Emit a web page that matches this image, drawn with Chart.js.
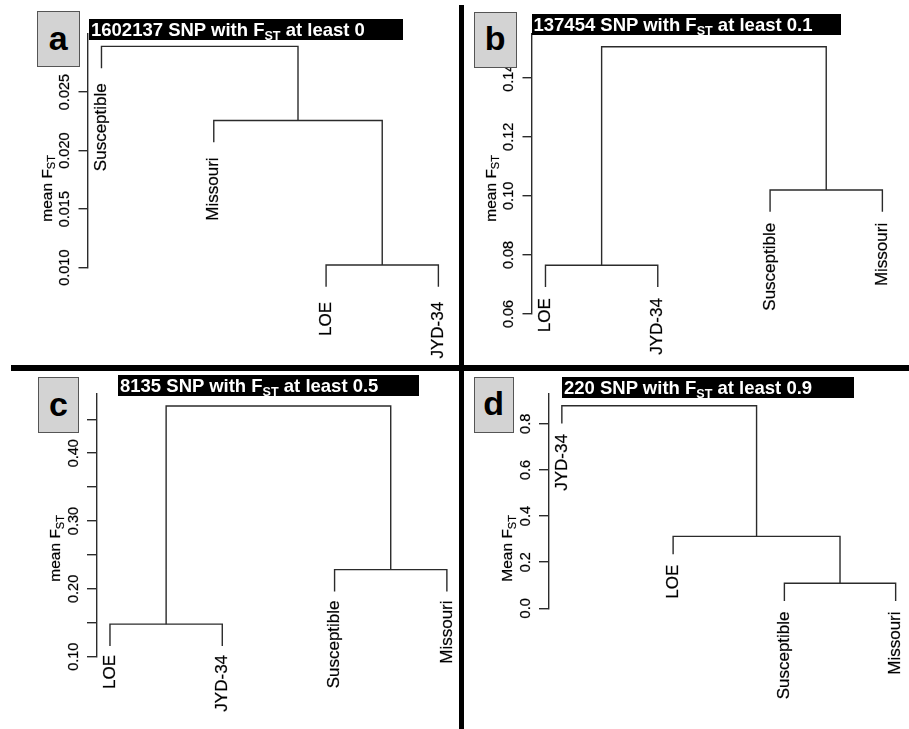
<!DOCTYPE html>
<html>
<head>
<meta charset="utf-8">
<script src="https://cdn.jsdelivr.net/npm/chart.js@4/dist/chart.umd.min.js"></script>
<style>
  html, body { margin: 0; padding: 0; background: #fff; }
  #fig { position: relative; width: 909px; height: 729px; overflow: hidden; background: #fff;
         font-family: "Liberation Sans", Arial, sans-serif; }
  #fig canvas { position: absolute; left: 0; top: 0; }
  .bar { position: absolute; background: #000; color: #fff; font-weight: bold; font-size: 18.5px;
         line-height: 21px; height: 21px; padding-left: 2px; box-sizing: border-box; white-space: nowrap; }
  .bar sub { font-size: 0.68em; vertical-align: -0.3em; line-height: 0; }
  .tag { position: absolute; background: #d3d3d3; border: 1.5px solid #555; box-sizing: border-box;
         font-weight: bold; font-size: 34px; color: #000; display: flex; align-items: center;
         justify-content: center; line-height: 1; padding-bottom: 3px; }
  .rule { position: absolute; background: #000; }
</style>
</head>
<body>
<div id="fig">
  <canvas id="cA" width="909" height="729"></canvas>
  <canvas id="cB" width="909" height="729"></canvas>
  <canvas id="cC" width="909" height="729"></canvas>
  <canvas id="cD" width="909" height="729"></canvas>

  <div class="rule" style="left:458.5px;top:5px;width:5.5px;height:724px;"></div>
  <div class="rule" style="left:11px;top:365px;width:898px;height:6px;"></div>

  <div class="bar" style="left:89px;top:19px;width:314px;">1602137 SNP with F<sub>ST</sub> at least 0</div>
  <div class="bar" style="left:531.5px;top:13.5px;width:309.5px;">137454 SNP with F<sub>ST</sub> at least 0.1</div>
  <div class="bar" style="left:118px;top:375px;width:301px;">8135 SNP with F<sub>ST</sub> at least 0.5</div>
  <div class="bar" style="left:562px;top:377px;width:292px;">220 SNP with F<sub>ST</sub> at least 0.9</div>

  <div class="tag" style="left:36.5px;top:11px;width:43.5px;height:56px;">a</div>
  <div class="tag" style="left:474px;top:11.5px;width:42.5px;height:56px;">b</div>
  <div class="tag" style="left:38px;top:377px;width:41px;height:56px;">c</div>
  <div class="tag" style="left:474px;top:377px;width:39.5px;height:55.5px;">d</div>
</div>

<script>
// ---- data: leaf order, merge table (hclust convention: -k = leaf k, j = merge j), merge heights ----
const leavesA = ['Susceptible', 'Missouri', 'LOE', 'JYD-34'];
const mergesA = [[-3, -4], [-2, 1], [-1, 2]];
const heightsA = [0.01023, 0.02257, 0.0289];
const tickValsA = [0.010, 0.015, 0.020, 0.025];
const tickLabelsA = ['0.010', '0.015', '0.020', '0.025'];

const leavesB = ['LOE', 'JYD-34', 'Susceptible', 'Missouri'];
const mergesB = [[-1, -2], [-3, -4], [1, 2]];
const heightsB = [0.0765, 0.102, 0.1505];
const tickValsB = [0.06, 0.08, 0.10, 0.12, 0.14];
const tickLabelsB = ['0.06', '0.08', '0.10', '0.12', '0.14'];

const leavesC = ['LOE', 'JYD-34', 'Susceptible', 'Missouri'];
const mergesC = [[-1, -2], [-3, -4], [1, 2]];
const heightsC = [0.148, 0.2283, 0.4695];
const tickValsC = [0.10, 0.15, 0.20, 0.25, 0.30, 0.35, 0.40, 0.45];
const tickLabelsC = ['0.10', '', '0.20', '', '0.30', '', '0.40', ''];

const leavesD = ['JYD-34', 'LOE', 'Susceptible', 'Missouri'];
const mergesD = [[-3, -4], [-2, 1], [-1, 2]];
const heightsD = [0.1087, 0.3117, 0.878];
const tickValsD = [0.0, 0.2, 0.4, 0.6, 0.8];
const tickLabelsD = ['0.0', '0.2', '0.4', '0.6', '0.8'];

const HANG = 0.1;   // leaf stems hang by this fraction of the height range

// ---- panel layout (page pixels) ----
const panels = [
  { id: 'cA', leaves: leavesA, merges: mergesA, heights: heightsA, tickVals: tickValsA, tickLabels: tickLabelsA,
    axisX: 88, top: 33.5, bottom: 267.7, yMin: 0.010, yMax: 0.030, gap: 15, panelTop: 0, yTitle: 'mean' },
  { id: 'cB', leaves: leavesB, merges: mergesB, heights: heightsB, tickVals: tickValsB, tickLabels: tickLabelsB,
    axisX: 532, top: 33.3, bottom: 314, yMin: 0.06, yMax: 0.15503, gap: 11, panelTop: 0, yTitle: 'mean' },
  { id: 'cC', leaves: leavesC, merges: mergesC, heights: heightsC, tickVals: tickValsC, tickLabels: tickLabelsC,
    axisX: 96.5, top: 393.3, bottom: 656.7, yMin: 0.10, yMax: 0.4883, gap: 9, panelTop: 360, yTitle: 'mean' },
  { id: 'cD', leaves: leavesD, merges: mergesD, heights: heightsD, tickVals: tickValsD, tickLabels: tickLabelsD,
    axisX: 548.5, top: 393.3, bottom: 608.3, yMin: 0.0, yMax: 0.9323, gap: 10.5, panelTop: 360, yTitle: 'Mean' }
];

const X_MIN = 0.88, X_MAX = 4.12, LEAF_STEP = 112.3;
const INK = '#2b2b2b';
const FONT = '"Liberation Sans", Arial, sans-serif';

// Turn a merge table into U-shaped link polylines plus the stem end of each leaf
function buildTree(merges, heights) {
  const range = Math.max(...heights) - Math.min(...heights);
  const hang = HANG * range;
  const mergeX = [];
  const leafEnd = {};
  const links = [];
  merges.forEach((pair, i) => {
    const h = heights[i];
    const pts = pair.map(c => {
      if (c < 0) {
        leafEnd[-c] = h - hang;
        return { x: -c, y: h - hang };
      }
      return { x: mergeX[c - 1], y: heights[c - 1] };
    });
    mergeX[i] = (pts[0].x + pts[1].x) / 2;
    links.push([pts[0], { x: pts[0].x, y: h }, { x: pts[1].x, y: h }, pts[1]]);
  });
  return { links, leafEnd };
}

// filled text with a hairline outline so the strokes read a little heavier
function heavyText(ctx, s, x, y) {
  ctx.fillText(s, x, y);
  ctx.strokeText(s, x, y);
}

// Rotated tick labels, axis title and leaf labels, placed through the chart's scales
const dendroText = {
  id: 'dendroText',
  afterDraw(chart, args, opts) {
    const p = opts.panel;
    const ctx = chart.ctx;
    const xs = chart.scales.x, ys = chart.scales.y;
    const axisX = chart.chartArea.left;
    ctx.save();
    ctx.fillStyle = '#000';
    ctx.strokeStyle = 'rgba(0,0,0,0.55)';
    ctx.lineWidth = 0.4;

    // tick labels, parallel to the axis
    ctx.font = '14.5px ' + FONT;
    ctx.textAlign = 'center';
    ctx.textBaseline = 'alphabetic';
    p.tickVals.forEach((v, i) => {
      const t = p.tickLabels[i];
      if (!t) return;
      ctx.save();
      ctx.translate(axisX - 19, ys.getPixelForValue(v));
      ctx.rotate(-Math.PI / 2);
      heavyText(ctx, t, 0, 0);
      ctx.restore();
    });

    // axis title with subscript
    ctx.save();
    ctx.translate(axisX - 36.5, p.panelTop + 221.7);
    ctx.rotate(-Math.PI / 2);
    ctx.textAlign = 'left';
    ctx.font = '15.5px ' + FONT;
    const main = p.yTitle + ' F';
    heavyText(ctx, main, 0, 0);
    const w = ctx.measureText(main).width;
    ctx.font = '11px ' + FONT;
    heavyText(ctx, 'ST', w, 3.5);
    ctx.restore();

    // leaf labels hanging below each stem
    ctx.font = '17px ' + FONT;
    ctx.textAlign = 'right';
    ctx.textBaseline = 'middle';
    p.leaves.forEach((name, i) => {
      const k = i + 1;
      const px = xs.getPixelForValue(k);
      const py = ys.getPixelForValue(p.tree.leafEnd[k]) + p.gap;
      ctx.save();
      ctx.translate(px, py);
      ctx.rotate(-Math.PI / 2);
      heavyText(ctx, name, 0, 0);
      ctx.restore();
    });
    ctx.restore();
  }
};

panels.forEach(p => {
  p.tree = buildTree(p.merges, p.heights);
  const plotW = (X_MAX - X_MIN) * LEAF_STEP;
  const AXIS_W = 12;
  new Chart(document.getElementById(p.id), {
    type: 'line',
    data: {
      datasets: p.tree.links.map(pts => ({
        data: pts,
        borderColor: INK,
        borderWidth: 1.4,
        pointRadius: 0,
        tension: 0,
        fill: false,
        clip: false
      }))
    },
    options: {
      responsive: false,
      devicePixelRatio: 1,
      animation: false,
      parsing: false,
      layout: {
        padding: {
          left: p.axisX - AXIS_W,
          right: 909 - (p.axisX + plotW),
          top: p.top,
          bottom: 729 - p.bottom
        }
      },
      plugins: {
        legend: { display: false },
        tooltip: { enabled: false },
        title: { display: false },
        dendroText: { panel: p }
      },
      scales: {
        x: { type: 'linear', display: false, min: X_MIN, max: X_MAX },
        y: {
          type: 'linear',
          position: 'left',
          min: p.yMin,
          max: p.yMax,
          afterBuildTicks: s => { s.ticks = p.tickVals.map(v => ({ value: v })); },
          afterFit: s => { s.width = AXIS_W; },
          ticks: { display: false },
          grid: { drawOnChartArea: false, drawTicks: true, tickLength: 9.5, color: INK, lineWidth: 1.4 },
          border: { display: true, color: INK, width: 1.4 }
        }
      }
    },
    plugins: [dendroText]
  });
});
</script>
</body>
</html>
